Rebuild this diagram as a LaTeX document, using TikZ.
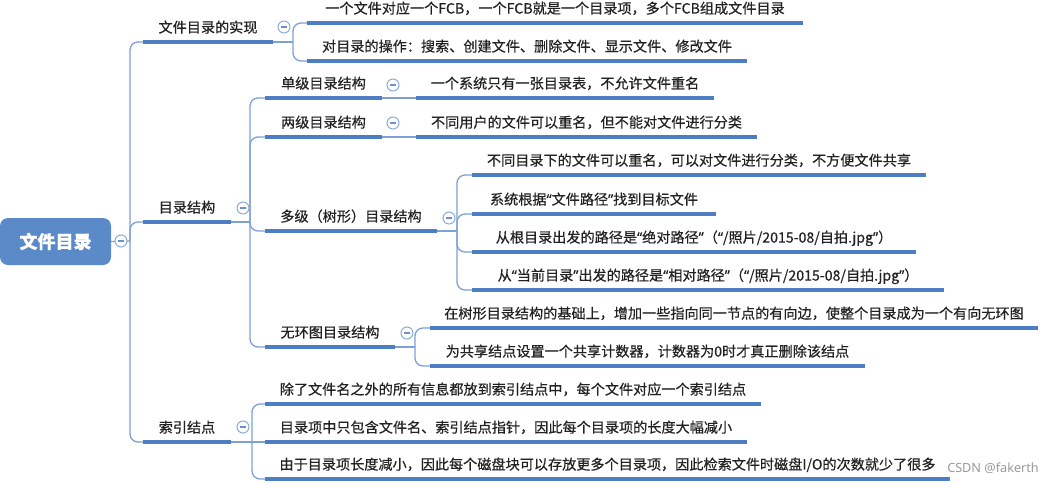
\documentclass[tikz,border=0pt]{standalone}
\usepackage{fontspec}
\setmainfont{Noto Sans CJK SC}[RawFeature={embolden=0.5}]
\newfontfamily\wmfont{Noto Sans}
\newfontfamily\qfont{Noto Sans}[RawFeature={embolden=0.5}]
\newcommand\qo{{\qfont “}}
\newcommand\qc{{\qfont ”}}
\definecolor{ulc}{RGB}{77,125,195}
\definecolor{lnc}{RGB}{125,160,214}
\definecolor{tgc}{RGB}{140,172,220}
\definecolor{tgm}{RGB}{110,143,200}
\definecolor{rootc}{RGB}{91,138,200}
\definecolor{textc}{RGB}{34,34,34}
\tikzset{
  topic/.style={inner xsep=0pt, inner ysep=0pt, outer sep=0pt, minimum height=20.25pt,
    text height=8.2pt, text depth=2.1pt, font=\fontsize{10.6pt}{13pt}\selectfont,
    text=textc, anchor=south west},
  uline/.style={draw=ulc, line width=2.4pt},
  conn/.style={draw=lnc, line width=1pt, rounded corners=6pt},
  toggle/.style={circle, draw=tgc, line width=0.8pt, fill=white, minimum size=9pt, inner sep=0pt,
    path picture={\draw[tgm, line width=0.8pt]
      ([xshift=-2.2pt]path picture bounding box.center) -- ([xshift=2.2pt]path picture bounding box.center);}},
  rootnode/.style={fill=rootc, rounded corners=6pt, text=white, inner sep=0pt, outer sep=0pt,
    font=\fontsize{13.5pt}{16pt}\selectfont\bfseries, anchor=north west}
}
\newcommand\mtopic[5]{\node[topic, minimum width={(#3-#2)*0.75pt}] (#1) at (#2,#4) {#5};}
\begin{document}
\begin{tikzpicture}[x=0.75pt,y=-0.75pt]
\useasboundingbox (0,0) rectangle (1049,483);
% root
\node[rootnode, minimum width=83.25pt, minimum height=35.25pt] (root) at (0,218) {文件目录};
% level 1
\mtopic{b1}{143}{273}{42}{文件目录的实现}
\mtopic{b2}{143}{231}{222}{目录结构}
\mtopic{b3}{143}{231}{442}{索引结点}
% level 2
\mtopic{l11}{307}{803}{23}{一个文件对应一个FCB，一个FCB就是一个目录项，多个FCB组成文件目录}
\mtopic{l12}{307}{747}{61}{对目录的操作：搜索、创建文件、删除文件、显示文件、修改文件}
\mtopic{s1}{265}{382}{98}{单级目录结构}
\mtopic{s2}{265}{382}{137}{两级目录结构}
\mtopic{s3}{265}{437}{231}{多级（树形）目录结构}
\mtopic{s4}{265}{395}{347}{无环图目录结构}
\mtopic{i1}{265}{761}{404}{除了文件名之外的所有信息都放到索引结点中，每个文件对应一个索引结点}
\mtopic{i2}{265}{747}{442}{目录项中只包含文件名、索引结点指针，因此每个目录项的长度大幅减小}
\mtopic{i3}{265}{950}{479}{由于目录项长度减小，因此每个磁盘块可以存放更多个目录项，因此检索文件时磁盘I/O的次数就少了很多}
% level 3
\mtopic{s1a}{416}{714}{98}{一个系统只有一张目录表，不允许文件重名}
\mtopic{s2a}{416}{757}{137}{不同用户的文件可以重名，但不能对文件进行分类}
\mtopic{s3a}{472}{926}{175}{不同目录下的文件可以重名，可以对文件进行分类，不方便文件共享}
\mtopic{s3b}{472}{716}{214}{系统根据\qo 文件路径\qc 找到目标文件}
\mtopic{s3c}{472}{916}{252}{从根目录出发的路径是\qo 绝对路径\qc （\qo /照片/2015-08/自拍.jpg\qc ）}
\mtopic{s3d}{472}{944}{290}{从\qo 当前目录\qc 出发的路径是\qo 相对路径\qc （\qo /照片/2015-08/自拍.jpg\qc ）}
\mtopic{s4a}{430}{1038}{328}{在树形目录结构的基础上，增加一些指向同一节点的有向边，使整个目录成为一个有向无环图}
\mtopic{s4b}{430}{865}{366}{为共享结点设置一个共享计数器，计数器为0时才真正删除该结点}
% fork points
\coordinate (hub) at (130,241);
\coordinate (f1) at (293,42);
\coordinate (f2) at (250,222);
\coordinate (f3) at (252,442);
\coordinate (f4) at (457,231);
\coordinate (f5) at (415,347);
% connectors
\draw[conn] (root.east) -- (hub);
\foreach \n in {b1,b2,b3} \draw[conn] (hub) |- (\n.south west);
\draw[conn] (b1.south east) -- (f1);
\foreach \n in {l11,l12} \draw[conn] (f1) |- (\n.south west);
\draw[conn] (b2.south east) -- (f2);
\foreach \n in {s1,s2,s3,s4} \draw[conn] (f2) |- (\n.south west);
\draw[conn] (b3.south east) -- (f3);
\draw[conn] (f3) |- (i1.south west);
\draw[conn] (f3) -- (i2.south west);
\draw[conn] (f3) |- (i3.south west);
\draw[conn] (s1.south east) -- (s1a.south west);
\draw[conn] (s2.south east) -- (s2a.south west);
\draw[conn] (s3.south east) -- (f4);
\foreach \n in {s3a,s3b,s3c,s3d} \draw[conn] (f4) |- (\n.south west);
\draw[conn] (s4.south east) -- (f5);
\foreach \n in {s4a,s4b} \draw[conn] (f5) |- (\n.south west);
% underlines
\foreach \n in {b1,b2,b3,l11,l12,s1,s2,s3,s4,i1,i2,i3,s1a,s2a,s3a,s3b,s3c,s3d,s4a,s4b}
  \draw[uline] (\n.south west) -- (\n.south east);
% toggles
\node[toggle] (t0) at (121,241) {};
\node[toggle] (t1) at (284,27) {};
\node[toggle] (t2) at (243,208) {};
\node[toggle] (t3) at (243,427) {};
\node[toggle] (t4) at (393,85) {};
\node[toggle] (t5) at (393,123) {};
\node[toggle] (t6) at (449,218) {};
\node[toggle] (t7) at (407,333) {};
% watermark
\node[anchor=west, inner sep=0pt, text=black!40, font=\wmfont\fontsize{9.5pt}{11pt}\selectfont] (wm) at (947,468) {CSDN @fakerth};
\end{tikzpicture}
\end{document}
